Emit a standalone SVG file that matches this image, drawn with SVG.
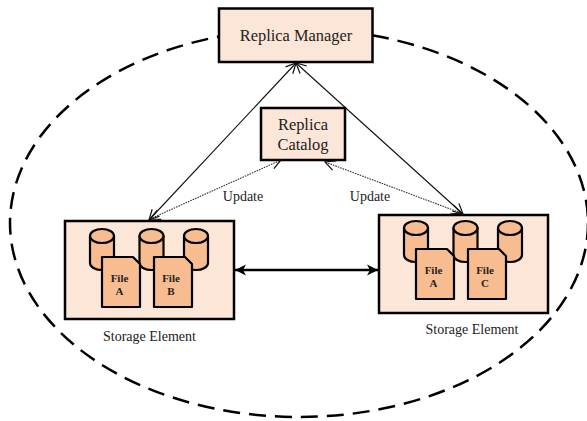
<svg xmlns="http://www.w3.org/2000/svg" xmlns:xlink="http://www.w3.org/1999/xlink" width="587" height="421" viewBox="0 0 587 421">
<style>
text{font-family:"Liberation Serif","Times New Roman",serif;fill:#222;text-anchor:middle}
.box{fill:#fce6d8;stroke:#000;stroke-width:2.5}
.store{fill:#fce6d8;stroke:#000;stroke-width:2.5}
.p{fill:#f7bd90;stroke:#000;stroke-width:2.2;stroke-linejoin:round}
.big{font-size:16.400px}
.lab{font-size:14px}
.f{font-size:11px;font-weight:bold}
.thin{fill:none;stroke:#111;stroke-width:1.1}
.dot{fill:none;stroke:#333;stroke-width:1.1;stroke-dasharray:1.6 1}
.thick{fill:none;stroke:#000;stroke-width:2.3}
</style>
<defs>
<marker id="open" viewBox="0 0 12 12" refX="11" refY="6" markerWidth="12" markerHeight="12" markerUnits="userSpaceOnUse" orient="auto-start-reverse"><path d="M1 1L11 6L1 11" fill="none" stroke="#111" stroke-width="1.2"/></marker>
<marker id="solid" viewBox="0 0 12 12" refX="11" refY="6" markerWidth="12" markerHeight="12" markerUnits="userSpaceOnUse" orient="auto-start-reverse"><path d="M0 0.5L11 6L0 11.500L3 6Z" fill="#000"/></marker>
<g id="cyl"><path class="p" d="M0 7V34A12 7 0 0 0 24 34V7Z"/><ellipse class="p" cx="12" cy="7" rx="12" ry="7"/></g>
<path id="doc" class="p" d="M0 0H31L38 7V50H0Z"/>
</defs>
<g id="boundary"><ellipse cx="299" cy="223" rx="289" ry="194" fill="none" stroke="#000" stroke-width="2.5" stroke-dasharray="17 9"/></g>
<g id="replica-manager"><rect class="box" x="219" y="8.500" width="153.500" height="53.500"/><text class="big" x="296" y="41">Replica Manager</text></g>
<g id="replica-catalog"><rect class="box" x="261" y="108" width="84" height="52"/><text class="big" x="303" y="130">Replica</text><text class="big" x="303" y="150">Catalog</text></g>
<g id="storage-left">
<rect class="store" x="65" y="221" width="169" height="98"/>
<use xlink:href="#cyl" x="90" y="229"/><use xlink:href="#cyl" x="139.500" y="229"/><use xlink:href="#cyl" x="184" y="229"/>
<use xlink:href="#doc" x="102" y="257"/><use xlink:href="#doc" x="154" y="257"/>
<text class="f" x="119.500" y="282">File</text><text class="f" x="119.500" y="295">A</text>
<text class="f" x="171" y="282">File</text><text class="f" x="171" y="295">B</text>
<text class="lab" x="149.500" y="341">Storage Element</text>
</g>
<g id="storage-right">
<rect class="store" x="379" y="215" width="169" height="98"/>
<use xlink:href="#cyl" x="404" y="221"/><use xlink:href="#cyl" x="453.500" y="221"/><use xlink:href="#cyl" x="498" y="221"/>
<use xlink:href="#doc" x="416" y="249"/><use xlink:href="#doc" x="468" y="249"/>
<text class="f" x="433.500" y="274">File</text><text class="f" x="433.500" y="287">A</text>
<text class="f" x="485" y="274">File</text><text class="f" x="485" y="287">C</text>
<text class="lab" x="472" y="334">Storage Element</text>
</g>
<g id="connectors">
<line class="thin" x1="149" y1="220" x2="296" y2="63" marker-start="url(#open)" marker-end="url(#open)"/>
<line class="thin" x1="463" y1="214" x2="296" y2="63" marker-start="url(#open)" marker-end="url(#open)"/>
<line class="dot" x1="150" y1="219" x2="281" y2="160" marker-start="url(#open)" marker-end="url(#open)"/>
<line class="dot" x1="461" y1="213" x2="325" y2="162" marker-start="url(#open)" marker-end="url(#open)"/>
<line class="thick" x1="235" y1="270" x2="378" y2="270" marker-start="url(#solid)" marker-end="url(#solid)"/>
<text class="lab" x="243" y="201">Update</text>
<text class="lab" x="370" y="201">Update</text>
</g>
</svg>
